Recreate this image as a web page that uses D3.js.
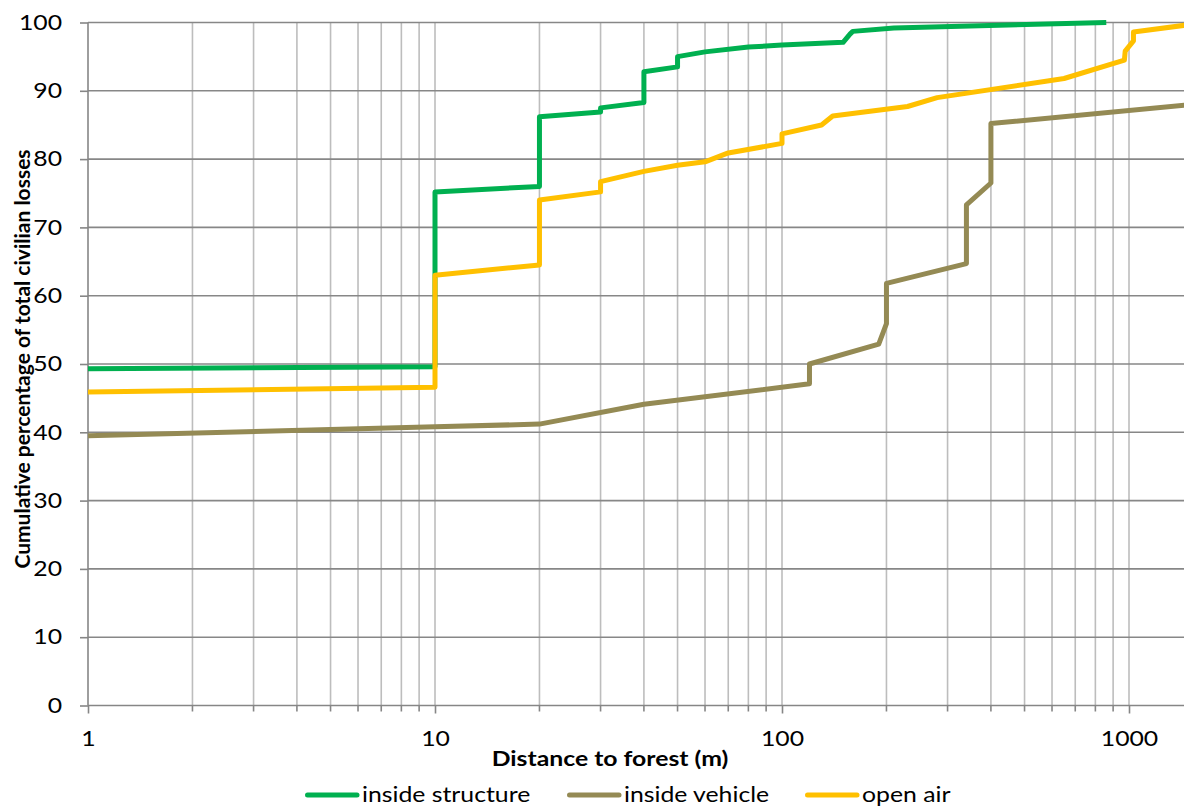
<!DOCTYPE html>
<html>
<head>
<meta charset="utf-8">
<script src="https://cdn.jsdelivr.net/npm/d3@7"></script>
<style>
  html, body { margin: 0; padding: 0; background: #fff; }
  svg { display: block; font-family: Lato, "Noto Sans", sans-serif; }
</style>
</head>
<body>
<svg id="chart" width="1184" height="808"></svg>
<script>
// Cumulative share of civilian losses by distance to forest, per exposure setting
const seriesNames = ["inside structure", "inside vehicle", "open air"];
const seriesColors = ["#00B050", "#948A54", "#FFC000"];

// [distance (m), cumulative %]
const insideStructure = [
  [1, 49.3], [10, 49.6], [10, 75.2], [20, 76.0], [20, 86.2], [30, 86.9], [30, 87.5],
  [40, 88.3], [40, 92.8], [50, 93.5], [50, 95.0], [60, 95.7], [80, 96.4], [100, 96.7],
  [150, 97.1], [157, 98.3], [160, 98.7], [210, 99.2], [860, 100]
];
const insideVehicle = [
  [1, 39.5], [10, 40.8], [20, 41.2], [40, 44.1], [120, 47.1], [120, 50.0], [190, 52.9],
  [200, 55.9], [200, 61.8], [340, 64.7], [340, 73.3], [400, 76.5], [400, 85.2], [1450, 87.9]
];
const openAir = [
  [1, 45.9], [10, 46.6], [10, 63.0], [20, 64.5], [20, 74.0], [30, 75.2], [30, 76.7],
  [40, 78.2], [50, 79.1], [60, 79.6], [70, 80.9], [100, 82.3], [100, 83.7], [130, 85.0],
  [140, 86.3], [230, 87.7], [280, 89.0], [650, 91.8], [970, 94.5], [975, 95.8],
  [1030, 97.3], [1030, 98.6], [1450, 99.6]
];
const seriesData = [insideStructure, insideVehicle, openAir];

const xTickValues = [1, 10, 100, 1000];
const yTickValues = [0, 10, 20, 30, 40, 50, 60, 70, 80, 90, 100];
const xTitle = "Distance to forest (m)";
const yTitle = "Cumulative percentage of total civilian losses";

const svg = d3.select("#chart");
const plotLeft = 88, plotTop = 22.5, plotBottom = 705.5, plotRight = 1184;
const textStretch = 1.18;   // horizontal widening of upright labels
const axisColor = "#868686";

const x = d3.scaleLog().domain([1, 1000]).range([plotLeft, plotLeft + 347 * 3]);
const y = d3.scaleLinear().domain([0, 100]).range([plotBottom, plotTop]);

// minor log positions across the visible range
const xMax = x.invert(plotRight);
const minorX = [];
for (let p = 0; p <= 3; p++) {
  for (let m = 1; m <= 9; m++) {
    const v = m * Math.pow(10, p);
    if (v <= xMax) minorX.push(v);
  }
}

// vertical grid
svg.append("g").selectAll("line").data(minorX.filter(v => v > 1)).join("line")
  .attr("x1", d => x(d)).attr("x2", d => x(d))
  .attr("y1", plotTop).attr("y2", plotBottom)
  .attr("stroke", "#bdbdbd").attr("stroke-width", 1.6);

// horizontal grid
svg.append("g").selectAll("line").data(yTickValues.filter(v => v > 0)).join("line")
  .attr("x1", plotLeft).attr("x2", plotRight)
  .attr("y1", d => y(d)).attr("y2", d => y(d))
  .attr("stroke", "#878787").attr("stroke-width", 1.6);

// y axis
const yAxis = svg.append("g").attr("transform", `translate(${plotLeft},0)`)
  .call(d3.axisLeft(y).tickValues(yTickValues).tickSize(8).tickPadding(18).tickFormat(d3.format("d")));
yAxis.select(".domain").attr("stroke", axisColor).attr("stroke-width", 1.6).attr("d", `M0,${plotTop}V${plotBottom}`);
yAxis.selectAll(".tick line").attr("stroke", axisColor).attr("stroke-width", 1.6);
yAxis.selectAll(".tick text")
  .attr("font-size", 21).attr("fill", "#000").attr("font-family", "Lato, sans-serif")
  .attr("x", -26 / textStretch).attr("transform", `scale(${textStretch},1)`);

// x axis: minor ticks then labelled decades
const xAxisG = svg.append("g").attr("transform", `translate(0,${plotBottom})`);
xAxisG.append("line").attr("x1", plotLeft).attr("x2", plotRight).attr("y1", 0).attr("y2", 0)
  .attr("stroke", axisColor).attr("stroke-width", 1.6);
xAxisG.selectAll("line.minor").data(minorX.filter(v => !xTickValues.includes(v))).join("line")
  .attr("class", "minor")
  .attr("x1", d => x(d)).attr("x2", d => x(d)).attr("y1", 0).attr("y2", 6)
  .attr("stroke", axisColor).attr("stroke-width", 1.6);
const xAxis = xAxisG.append("g")
  .call(d3.axisBottom(x).tickValues(xTickValues).tickSize(8).tickPadding(18).tickFormat(d3.format("d")));
xAxis.select(".domain").remove();
xAxis.selectAll(".tick line").attr("stroke", axisColor).attr("stroke-width", 1.6);
xAxis.selectAll(".tick text")
  .attr("font-size", 21).attr("fill", "#000").attr("font-family", "Lato, sans-serif")
  .attr("transform", `scale(${textStretch},1)`);

// axis titles
svg.append("text").attr("transform", `translate(610,766) scale(${textStretch},1)`)
  .attr("text-anchor", "middle")
  .attr("font-size", 21).attr("font-weight", "bold").text(xTitle);
svg.append("text").attr("transform", `translate(30,359) rotate(-90)`).attr("text-anchor", "middle")
  .attr("font-size", 21).attr("font-weight", "bold").text(yTitle);

// series lines
svg.append("clipPath").attr("id", "plotClip").append("rect")
  .attr("x", plotLeft).attr("y", 0).attr("width", plotRight - plotLeft).attr("height", plotBottom + 5);
const line = d3.line().x(d => x(d[0])).y(d => y(d[1]));
svg.append("g").attr("clip-path", "url(#plotClip)").selectAll("path").data(seriesData).join("path")
  .attr("d", line).attr("fill", "none")
  .attr("stroke", (d, i) => seriesColors[i]).attr("stroke-width", 5)
  .attr("stroke-linejoin", "round");

// legend
const legendX = [305, 567, 805];
const legend = svg.append("g").selectAll("g").data(seriesNames).join("g")
  .attr("transform", (d, i) => `translate(${legendX[i]},795)`);
legend.append("line").attr("x1", 2.5).attr("x2", 52).attr("y1", 0).attr("y2", 0)
  .attr("stroke", (d, i) => seriesColors[i]).attr("stroke-width", 5).attr("stroke-linecap", "round");
legend.append("text").attr("transform", `translate(57,7) scale(${textStretch},1)`)
  .attr("font-size", 21).text(d => d);
</script>
</body>
</html>
